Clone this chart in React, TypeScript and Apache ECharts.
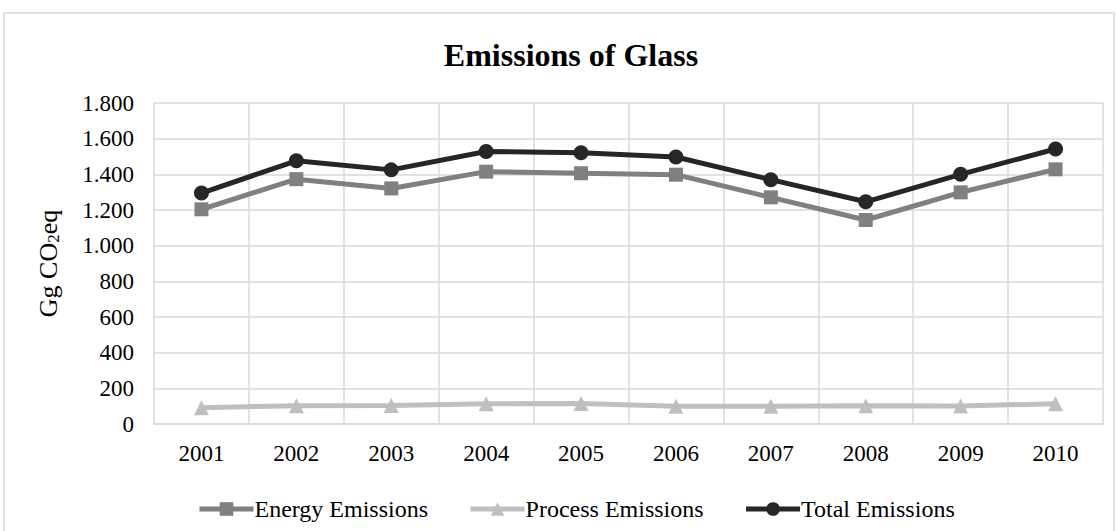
import React, { useEffect, useRef } from "react";
import * as echarts from "echarts";

// Emissions of the glass industry, Gg CO2eq
const years = ["2001", "2002", "2003", "2004", "2005", "2006", "2007", "2008", "2009", "2010"];
const energyEmissions = [1204, 1373, 1321, 1415, 1406, 1398, 1271, 1144, 1299, 1428];
const processEmissions = [91, 103, 104, 113, 115, 99, 99, 102, 101, 114];
const totalEmissions = [1295, 1476, 1425, 1528, 1521, 1497, 1370, 1246, 1400, 1542];

const FONT = "'Liberation Serif', 'Times New Roman', serif";
const GRID_COLOR = "#d9d9d9";

// thousands separated with a dot, e.g. 1.800
const formatThousands = (v: number) =>
  String(Math.round(v)).replace(/\B(?=(\d{3})+(?!\d))/g, ".");

export default function App() {
  const ref = useRef<HTMLDivElement>(null);

  useEffect(() => {
    if (!ref.current) return;
    const chart = echarts.init(ref.current, undefined, { renderer: "svg" });
    const lineSeries = (
      name: string,
      data: number[],
      color: string,
      symbol: string,
      symbolSize: number
    ) => ({
      name,
      type: "line",
      data,
      symbol,
      symbolSize,
      showSymbol: true,
      itemStyle: { color },
      lineStyle: { color, width: 5 },
      emphasis: { disabled: true },
    });

    chart.setOption({
      animation: false,
      backgroundColor: "#ffffff",
      title: {
        text: "Emissions of Glass",
        left: 566,
        top: 34,
        textAlign: "center",
        textStyle: {
          fontFamily: FONT,
          fontSize: 32,
          fontWeight: "bold",
          color: "#000000",
        },
      },
      graphic: [
        {
          type: "rect",
          shape: { x: 4, y: 13, width: 1110, height: 530 },
          style: { fill: "none", stroke: GRID_COLOR, lineWidth: 1.5 },
          silent: true,
        },
      ],
      legend: {
        left: 192,
        top: 492,
        itemWidth: 54,
        itemHeight: 17,
        itemGap: 40,
        lineStyle: { width: 5 },
        data: ["Energy Emissions", "Process Emissions", "Total Emissions"],
        textStyle: { fontFamily: FONT, fontSize: 24, color: "#000000", padding: [0, 0, 0, -4] },
      },
      grid: { left: 154, right: 15, top: 103, bottom: 107, containLabel: false },
      xAxis: {
        type: "category",
        data: years,
        boundaryGap: true,
        axisLine: { show: true, lineStyle: { color: GRID_COLOR, width: 1.5 } },
        axisTick: { show: false },
        splitLine: { show: true, lineStyle: { color: GRID_COLOR, width: 1.5 } },
        axisLabel: { fontFamily: FONT, fontSize: 23, color: "#000000", margin: 18 },
      },
      yAxis: {
        type: "value",
        min: 0,
        max: 1800,
        interval: 200,
        name: "Gg CO{sub|2}eq",
        nameLocation: "middle",
        nameRotate: 90,
        nameGap: 92,
        nameTextStyle: {
          fontFamily: FONT,
          fontSize: 26,
          color: "#000000",
          rich: {
            sub: { fontFamily: FONT, fontSize: 17, color: "#000000", padding: [10, 0, 0, 0] },
          },
        },
        axisLine: { show: false },
        axisTick: { show: false },
        splitLine: { show: true, lineStyle: { color: GRID_COLOR, width: 1.5 } },
        axisLabel: {
          fontFamily: FONT,
          fontSize: 23,
          color: "#000000",
          margin: 20,
          formatter: (v: number) => formatThousands(v),
        },
      },
      series: [
        lineSeries("Energy Emissions", energyEmissions, "#808080", "rect", 14),
        lineSeries("Process Emissions", processEmissions, "#bfbfbf", "triangle", 15),
        lineSeries("Total Emissions", totalEmissions, "#262626", "circle", 15),
      ],
    });

    return () => chart.dispose();
  }, []);

  return (
    <div
      ref={ref}
      style={{ position: "absolute", left: 0, top: 0, width: 1118, height: 531 }}
    />
  );
}
